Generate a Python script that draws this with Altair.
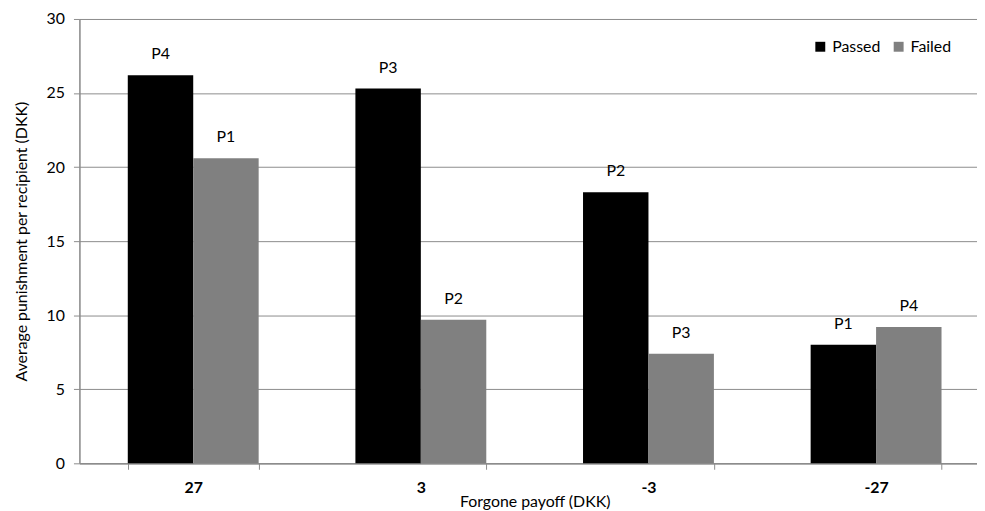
import altair as alt
import pandas as pd

categories = ["27", "3", "-3", "-27"]
groups = ["Passed", "Failed"]
passed = [26.2, 25.3, 18.3, 8.0]
failed = [20.6, 9.7, 7.4, 9.2]
passed_labels = ["P4", "P3", "P2", "P1"]
failed_labels = ["P1", "P2", "P3", "P4"]
y_ticks = [0, 5, 10, 15, 20, 25, 30]

rows = []
for c, v, l in zip(categories, passed, passed_labels):
    rows.append({"payoff": c, "group": "Passed", "value": v, "label": l})
for c, v, l in zip(categories, failed, failed_labels):
    rows.append({"payoff": c, "group": "Failed", "value": v, "label": l})
df = pd.DataFrame(rows)

FONT = "Lato"
FS = 16
GRID = "#8c8c8c"

x_enc = alt.X(
    "payoff:N",
    sort=categories,
    scale=alt.Scale(range=[0, 918], paddingInner=0.425, paddingOuter=0.2125),
    axis=alt.Axis(
        title="Forgone payoff (DKK)",
        labelAngle=0,
        labelFontWeight="bold",
        labelFontSize=FS,
        labelFont=FONT,
        labelColor="#000000",
        labelPadding=10,
        tickBand="extent",
        tickSize=6,
        tickColor=GRID,
        domainColor=GRID,
        domainWidth=1.5,
        grid=False,
        titleFont=FONT,
        titleFontSize=FS,
        titleFontWeight="normal",
        titleColor="#000000",
        titleX=459,
        titleY=31,
        titleAlign="center",
    ),
)
xoff = alt.XOffset("group:N", sort=groups, scale=alt.Scale(paddingInner=0, paddingOuter=0))

bars = alt.Chart(df).mark_bar().encode(
    x=x_enc,
    xOffset=xoff,
    y=alt.Y(
        "value:Q",
        scale=alt.Scale(domain=[0, 30], nice=False),
        axis=alt.Axis(
            title="Average punishment per recipient (DKK)",
            values=y_ticks,
            labelFont=FONT,
            labelFontSize=FS,
            labelColor="#000000",
            labelPadding=9,
            tickSize=6,
            tickColor=GRID,
            domainColor=GRID,
            domainWidth=1.5,
            gridColor=GRID,
            gridWidth=1,
            titleFont=FONT,
            titleFontSize=FS,
            titleFontWeight="normal",
            titleColor="#000000",
            titlePadding=17,
        ),
    ),
    color=alt.Color(
        "group:N",
        sort=groups,
        scale=alt.Scale(domain=groups, range=["#000000", "#808080"]),
        legend=alt.Legend(
            title=None,
            orient="none",
            direction="horizontal",
            legendX=739,
            legendY=20,
            symbolType="square",
            symbolSize=100,
            symbolStrokeWidth=0,
            labelFont=FONT,
            labelFontSize=FS,
            labelColor="#000000",
            labelOffset=4,
            columnPadding=10,
            padding=0,
        ),
    ),
)

labels = alt.Chart(df).mark_text(
    baseline="bottom", dy=-13, font=FONT, fontSize=FS, color="#000000"
).encode(
    x=alt.X("payoff:N", sort=categories),
    xOffset=alt.XOffset("group:N", sort=groups),
    y=alt.Y("value:Q"),
    text="label:N",
)

chart = (
    alt.layer(bars, labels)
    .properties(
        width=905,
        height=448,
        autosize=alt.AutoSizeParams(type="none"),
        padding={"left": 72, "top": 9, "right": 0, "bottom": 46},
    )
    .configure_view(stroke=None)
    .configure(background="white")
)

chart.save("out.html", embed_options={"renderer": "svg", "actions": False})
